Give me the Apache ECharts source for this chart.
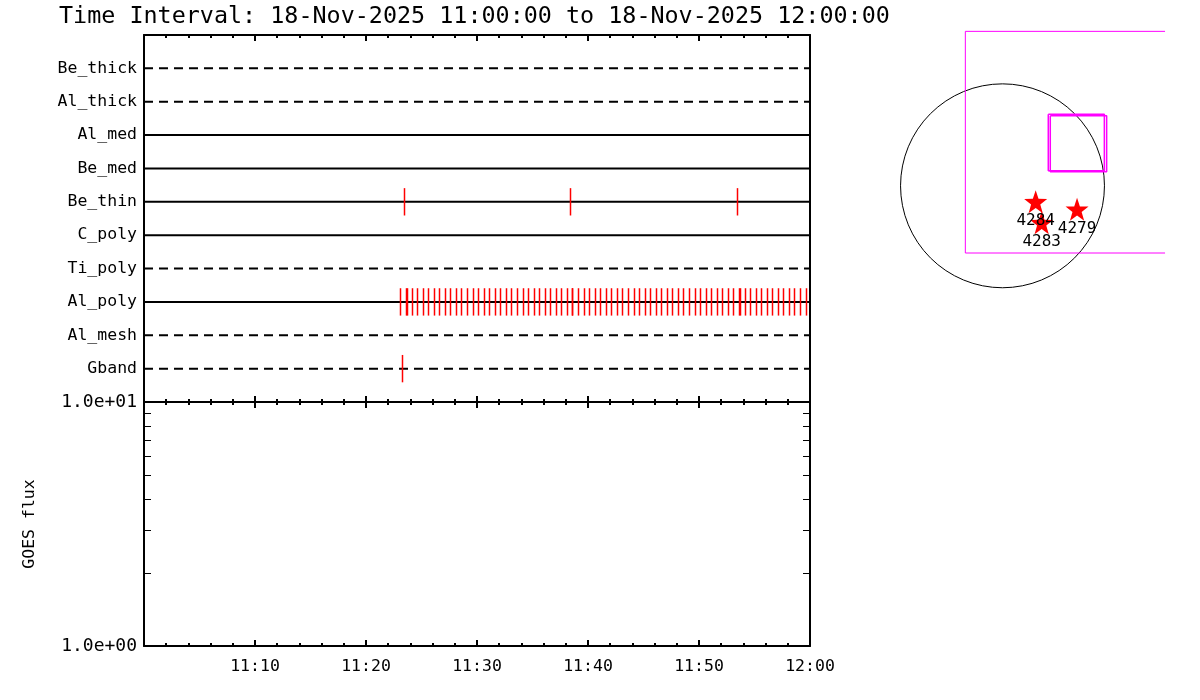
<!DOCTYPE html>
<html>
<head>
<meta charset="utf-8">
<title>Time Interval chart</title>
<script src="https://cdn.jsdelivr.net/npm/echarts@6/dist/echarts.min.js"></script>
<style>
  html, body { margin: 0; padding: 0; background: #fff; }
  #chart { width: 1200px; height: 700px; }
</style>
</head>
<body>
<div id="chart"></div>
<script>
// ---------------- data ----------------
const titleText = 'Time Interval: 18-Nov-2025 11:00:00 to 18-Nov-2025 12:00:00';
const timeStart = '11:00:00';
const timeEnd = '12:00:00';

// detector rows, top to bottom
const rowNames = ['Be_thick', 'Al_thick', 'Al_med', 'Be_med', 'Be_thin',
                  'C_poly', 'Ti_poly', 'Al_poly', 'Al_mesh', 'Gband'];

// event times (red marks) per row
const beThinTimes = ['11:23:28', '11:38:25', '11:53:28'];
const gbandTimes = ['11:23:17'];
const alPolyTimes = [
  '11:23:06', '11:23:36', '11:24:06', '11:24:36', '11:25:06', '11:25:36', '11:26:06', '11:26:36', '11:27:06', '11:27:36',
  '11:28:06', '11:28:36', '11:29:06', '11:29:36', '11:30:06', '11:30:36', '11:31:06', '11:31:36', '11:32:06', '11:32:36',
  '11:33:06', '11:33:36', '11:34:06', '11:34:36', '11:35:06', '11:35:36', '11:36:06', '11:36:36', '11:37:06', '11:37:36',
  '11:38:06', '11:38:36', '11:39:06', '11:39:36', '11:40:06', '11:40:36', '11:41:06', '11:41:36', '11:42:06', '11:42:36',
  '11:43:06', '11:43:36', '11:44:06', '11:44:36', '11:45:06', '11:45:36', '11:46:06', '11:46:36', '11:47:06', '11:47:36',
  '11:48:06', '11:48:36', '11:49:06', '11:49:36', '11:50:06', '11:50:36', '11:51:06', '11:51:36', '11:52:06', '11:52:36',
  '11:53:06', '11:53:36', '11:54:06', '11:54:36', '11:55:06', '11:55:36', '11:56:06', '11:56:36', '11:57:06', '11:57:36',
  '11:58:06', '11:58:36', '11:59:06', '11:59:36',
  '11:23:41', '11:38:31', '11:53:41'
];

// GOES flux panel (log axis, no data in this interval)
const fluxRange = [1, 10];
const fluxMinorTicks = [2, 3, 4, 5, 6, 7, 8, 9];

// solar map panel (arcsec)
const sunCenter = [0, 0];
const sunRadius = 971;
const mapFov = [[1548, 1471], [-354, 1471], [-354, -640], [1548, -640]];
const boxA = [[436, 681], [970, 681], [970, 144], [436, 144], [436, 681]];
const boxB = [[455, 668], [992, 668], [992, 134], [455, 134], [455, 668]];
const regionNames = ['4284', '4283', '4279'];
const regionX = [316, 373, 710];
const regionY = [-151, -351, -224];

// ---------------- styles ----------------
const rowLineTypes = ['dashed', 'dashed', 'solid', 'solid', 'solid',
                      'solid', 'dashed', 'solid', 'dashed', 'dashed'];
const FONT = 'DejaVu Sans Mono';
const DASH = [9, 6];
const STAR = 'path://M0,-10 L2.35,-3.24 L9.51,-3.09 L3.8,1.24 L5.88,8.09 L0,4 L-5.88,8.09 L-3.8,1.24 L-9.51,-3.09 L-2.35,-3.24 Z';

// ---------------- helpers ----------------
function toSec(t) {
  const p = t.split(':').map(Number);
  return p[0] * 3600 + p[1] * 60 + (p[2] || 0);
}
const TMIN = toSec(timeStart);
const TMAX = toSec(timeEnd);
function fmtHM(v) {
  if (v === TMIN) return '';
  const h = Math.floor(v / 3600), m = Math.round((v % 3600) / 60);
  return String(h).padStart(2, '0') + ':' + String(m).padStart(2, '0');
}
function fmtExp(v) {
  const e = Math.round(Math.log10(v));
  const mant = v / Math.pow(10, e);
  return mant.toFixed(1) + 'e' + (e < 0 ? '-' : '+') + String(Math.abs(e)).padStart(2, '0');
}

const black = '#000000';
function timeAxis(grid, pos, labels) {
  return {
    gridIndex: grid, type: 'value', position: pos, min: TMIN, max: TMAX, interval: 600,
    axisLine: { show: true, onZero: false, lineStyle: { color: black, width: 2 } },
    axisTick: { show: true, inside: true, length: 6, lineStyle: { color: black, width: 2 } },
    minorTick: { show: true, splitNumber: 5, length: 3, lineStyle: { color: black, width: 2 } },
    axisLabel: { show: labels, formatter: fmtHM, color: black, fontFamily: FONT, fontSize: 16.5, margin: 12 },
    splitLine: { show: false }
  };
}

// ---------------- series ----------------
const series = [];

rowNames.forEach(function (name, i) {
  series.push({
    type: 'line', xAxisIndex: 0, yAxisIndex: 0, silent: true, showSymbol: false, symbol: 'none',
    data: [[TMIN, i + 1], [TMAX, i + 1]],
    lineStyle: { color: black, width: 2, type: rowLineTypes[i] === 'dashed' ? DASH : 'solid' },
    z: 2
  });
});

function eventSeries(times, rowName) {
  const row = rowNames.indexOf(rowName) + 1;
  return {
    type: 'custom', xAxisIndex: 0, yAxisIndex: 0, silent: true, z: 4,
    data: times.map(function (t) { return [toSec(t), row]; }),
    renderItem: function (params, api) {
      const t = api.value(0), r = api.value(1);
      const a = api.coord([t, r - 0.41]);
      const b = api.coord([t, r + 0.41]);
      const x = Math.round(a[0]) + 0.5;
      return {
        type: 'line',
        shape: { x1: x, y1: a[1], x2: x, y2: b[1] },
        style: { stroke: '#ff0000', lineWidth: 1.5 }
      };
    }
  };
}
series.push(eventSeries(beThinTimes, 'Be_thin'));
series.push(eventSeries(alPolyTimes, 'Al_poly'));
series.push(eventSeries(gbandTimes, 'Gband'));

// GOES log-axis minor ticks (left and right frame)
series.push({
  type: 'custom', xAxisIndex: 2, yAxisIndex: 2, silent: true, z: 5,
  data: fluxMinorTicks.map(function (v) { return [TMIN, v]; }),
  renderItem: function (params, api) {
    const v = api.value(1);
    const l = api.coord([TMIN, v]);
    const r = api.coord([TMAX, v]);
    const y = Math.round(l[1]) + 0.5;
    return {
      type: 'group',
      children: [
        { type: 'line', shape: { x1: l[0], y1: y, x2: l[0] + 7, y2: y }, style: { stroke: black, lineWidth: 1 } },
        { type: 'line', shape: { x1: r[0] - 7, y1: y, x2: r[0], y2: y }, style: { stroke: black, lineWidth: 1 } }
      ]
    };
  }
});

// solar disk
series.push({
  type: 'custom', xAxisIndex: 4, yAxisIndex: 4, silent: true, z: 2,
  data: [[sunCenter[0], sunCenter[1], sunRadius]],
  renderItem: function (params, api) {
    const c = api.coord([api.value(0), api.value(1)]);
    const r = api.size([api.value(2), 0])[0];
    return { type: 'circle', shape: { cx: c[0], cy: c[1], r: r }, style: { fill: 'none', stroke: black, lineWidth: 1 } };
  }
});

function mapLine(data, width) {
  return {
    type: 'line', xAxisIndex: 4, yAxisIndex: 4, silent: true, showSymbol: false, symbol: 'none',
    data: data, lineStyle: { color: '#ff00ff', width: width, opacity: 1 }, z: 3
  };
}
series.push(mapLine(mapFov, 1));
series.push(mapLine(boxA, 1.5));
series.push(mapLine(boxB, 1.5));

series.push({
  type: 'scatter', xAxisIndex: 4, yAxisIndex: 4, silent: true, z: 4,
  symbol: STAR, symbolSize: 23,
  itemStyle: { color: '#ff0000', opacity: 1 },
  data: regionNames.map(function (n, i) { return { name: n, value: [regionX[i], regionY[i]] }; }),
  label: {
    show: true, position: 'bottom', distance: 0, formatter: '{b}',
    color: black, fontFamily: FONT, fontSize: 16
  }
});

// ---------------- option ----------------
const option = {
  animation: false,
  backgroundColor: '#ffffff',
  textStyle: { fontFamily: FONT, color: black },
  title: {
    text: titleText, left: 59, top: 5, padding: 0,
    textStyle: { fontFamily: FONT, fontSize: 23.4, fontWeight: 'normal', color: black }
  },
  grid: [
    { left: 144, top: 35, width: 666, height: 367 },
    { left: 144, top: 402, width: 666, height: 244 },
    { left: 897.5, top: 17.8, width: 273, height: 283.5 }
  ],
  xAxis: [
    timeAxis(0, 'bottom', false),
    timeAxis(0, 'top', false),
    timeAxis(1, 'bottom', true),
    timeAxis(1, 'top', false),
    { gridIndex: 2, type: 'value', min: -1000, max: 1600, show: false }
  ],
  yAxis: [
    {
      gridIndex: 0, type: 'value', position: 'left', min: 0, max: rowNames.length + 1, interval: 1, inverse: true,
      axisLine: { show: true, onZero: false, lineStyle: { color: black, width: 2 } },
      axisTick: { show: false },
      axisLabel: {
        color: black, fontFamily: FONT, fontSize: 16.5, margin: 7,
        formatter: function (v) { return rowNames[v - 1] || ''; }
      },
      splitLine: { show: false }
    },
    {
      gridIndex: 0, type: 'value', position: 'right', min: 0, max: rowNames.length + 1, interval: 1, inverse: true,
      axisLine: { show: true, onZero: false, lineStyle: { color: black, width: 2 } },
      axisTick: { show: false }, axisLabel: { show: false }, splitLine: { show: false }
    },
    {
      gridIndex: 1, type: 'log', logBase: 10, position: 'left', min: fluxRange[0], max: fluxRange[1],
      name: 'GOES flux', nameLocation: 'middle', nameGap: 106, nameRotate: 90,
      nameTextStyle: { color: black, fontFamily: FONT, fontSize: 16.5 },
      axisLine: { show: true, onZero: false, lineStyle: { color: black, width: 2 } },
      axisTick: { show: false },
      axisLabel: { color: black, fontFamily: FONT, fontSize: 18, margin: 7, formatter: fmtExp },
      splitLine: { show: false }
    },
    {
      gridIndex: 1, type: 'log', logBase: 10, position: 'right', min: fluxRange[0], max: fluxRange[1],
      axisLine: { show: true, onZero: false, lineStyle: { color: black, width: 2 } },
      axisTick: { show: false }, axisLabel: { show: false }, splitLine: { show: false }
    },
    { gridIndex: 2, type: 'value', min: -1100, max: 1600, show: false }
  ],
  series: series
};

const chart = echarts.init(document.getElementById('chart'), null, { renderer: 'canvas' });
chart.setOption(option);
</script>
</body>
</html>
